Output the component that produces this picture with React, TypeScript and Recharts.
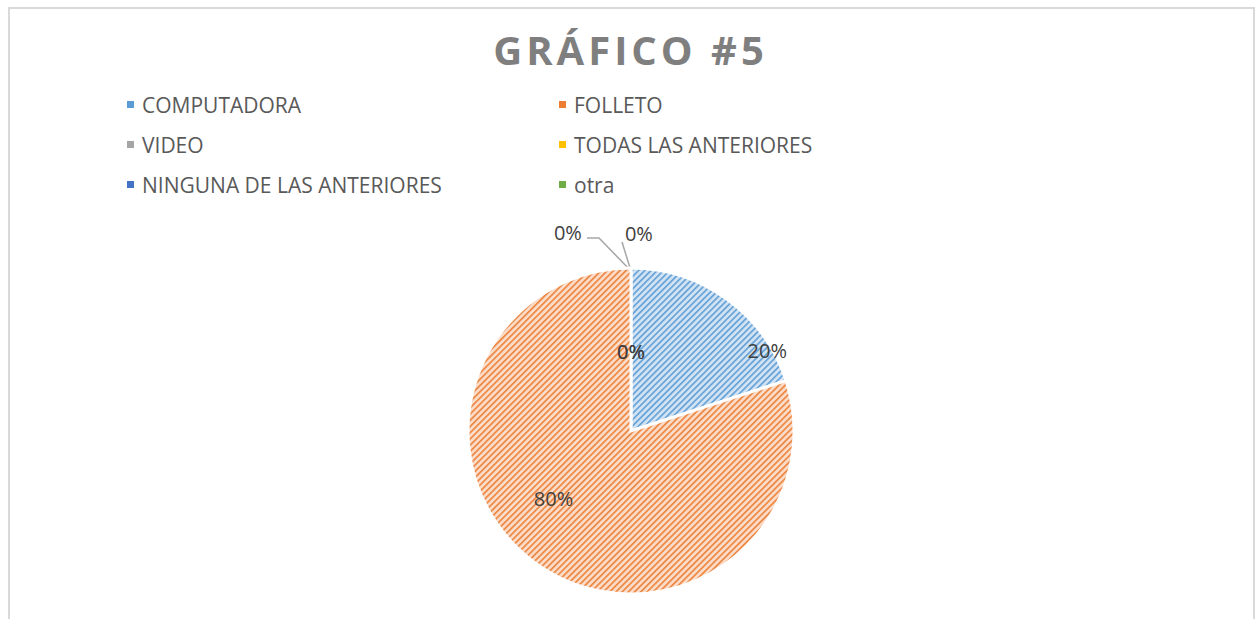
import { Pie, PieChart } from "recharts";

const categories = [
  "COMPUTADORA",
  "FOLLETO",
  "VIDEO",
  "TODAS LAS ANTERIORES",
  "NINGUNA DE LAS ANTERIORES",
  "otra",
];
const values = [20, 80, 0, 0, 0, 0];
const percentLabels = ["20%", "80%", "0%", "0%", "0%", "0%"];
const colors = ["#5B9BD5", "#ED7D31", "#A5A5A5", "#FFC000", "#4472C4", "#70AD47"];
const lightColors = ["#D2E3F4", "#FBDDCA", "#E4E4E4", "#FFF0C0", "#CFDAF0", "#DBEBD0"];

// where Excel put each data label: [angle in degrees, fraction of radius]
const labelPlacement: [number, number][] = [
  [30.5, 0.97],
  [221, 0.63],
  [90, 0.49],
  [90, 0.49],
  [107.6, 1.28],
  [87.7, 1.21],
];

const data = categories.map((name, i) => ({
  name,
  value: values[i],
  fill: `url(#stripe${i})`,
}));

const W = 1243;
const H = 600;
const CX = 622;
const CY = 422;
const R = 163;

function renderLabel(props: any) {
  const { index, cx, cy, outerRadius } = props;
  const [deg, frac] = labelPlacement[index];
  const rad = (deg * Math.PI) / 180;
  const x = cx + Math.cos(rad) * outerRadius * frac;
  const y = cy - Math.sin(rad) * outerRadius * frac;
  return (
    <text
      key={`lbl-${index}`}
      x={x}
      y={y}
      textAnchor="middle"
      dominantBaseline="central"
      fill="#404040"
      fontSize={20}
      fontFamily="'Open Sans', sans-serif"
    >
      {percentLabels[index]}
    </text>
  );
}

function LegendBlock() {
  return (
    <div
      style={{
        position: "absolute",
        left: 118,
        top: 82,
        display: "grid",
        gridTemplateColumns: "432px 400px",
        rowGap: 13,
        fontFamily: "'Open Sans', sans-serif",
        fontSize: 21,
        color: "#595959",
        whiteSpace: "nowrap",
        zIndex: 2,
      }}
    >
      {categories.map((c, i) => (
        <div key={c} style={{ display: "flex", alignItems: "center", height: 27 }}>
          <span
            style={{
              width: 7,
              height: 7,
              background: colors[i],
              marginRight: 8,
              display: "inline-block",
              flex: "none",
            }}
          />
          <span>{c}</span>
        </div>
      ))}
    </div>
  );
}

export default function App() {
  return (
    <div
      style={{
        position: "relative",
        width: W,
        height: H,
        marginTop: 1,
        marginLeft: 1,
        background: "#fff",
      }}
    >
      <div
        style={{
          position: "fixed",
          left: 8,
          top: 7,
          width: 1247,
          height: 700,
          boxSizing: "border-box",
          border: "2px solid #D9D9D9",
          pointerEvents: "none",
          zIndex: 3,
        }}
      />
      <div
        style={{
          position: "absolute",
          left: 0,
          top: 16,
          width: W,
          textAlign: "center",
          fontFamily: "'Open Sans', sans-serif",
          fontWeight: 700,
          fontSize: 40,
          letterSpacing: 4,
          color: "#7F7F7F",
          lineHeight: "50px",
          zIndex: 2,
        }}
      >
        GRÁFICO #5
      </div>
      <LegendBlock />
      <PieChart
        width={W}
        height={H}
        margin={{ top: 0, right: 0, bottom: 0, left: 0 }}
        style={{ position: "absolute", left: 0, top: 0 }}
      >
        <defs>
          {colors.map((c, i) => (
            <pattern
              key={c}
              id={`stripe${i}`}
              width={4.4}
              height={4.4}
              patternUnits="userSpaceOnUse"
              patternTransform="rotate(45)"
            >
              <rect width={4.4} height={4.4} fill={lightColors[i]} />
              <rect width={1.8} height={4.4} fill={c} opacity={0.85} />
            </pattern>
          ))}
        </defs>
        <Pie
          data={data}
          dataKey="value"
          nameKey="name"
          cx={CX}
          cy={CY}
          outerRadius={R}
          startAngle={90}
          endAngle={-270}
          stroke="#ffffff"
          strokeWidth={3}
          label={renderLabel}
          labelLine={false}
          isAnimationActive={false}
        />
        <polyline
          points={`${CX},${CY - R + 3} ${CX - 32},${CY - 193} ${CX - 44},${CY - 193}`}
          fill="none"
          stroke="#A6A6A6"
          strokeWidth={1.5}
        />
        <polyline
          points={`${CX},${CY - R + 3} ${CX - 9},${CY - 189}`}
          fill="none"
          stroke="#A6A6A6"
          strokeWidth={1.5}
        />
      </PieChart>
    </div>
  );
}
